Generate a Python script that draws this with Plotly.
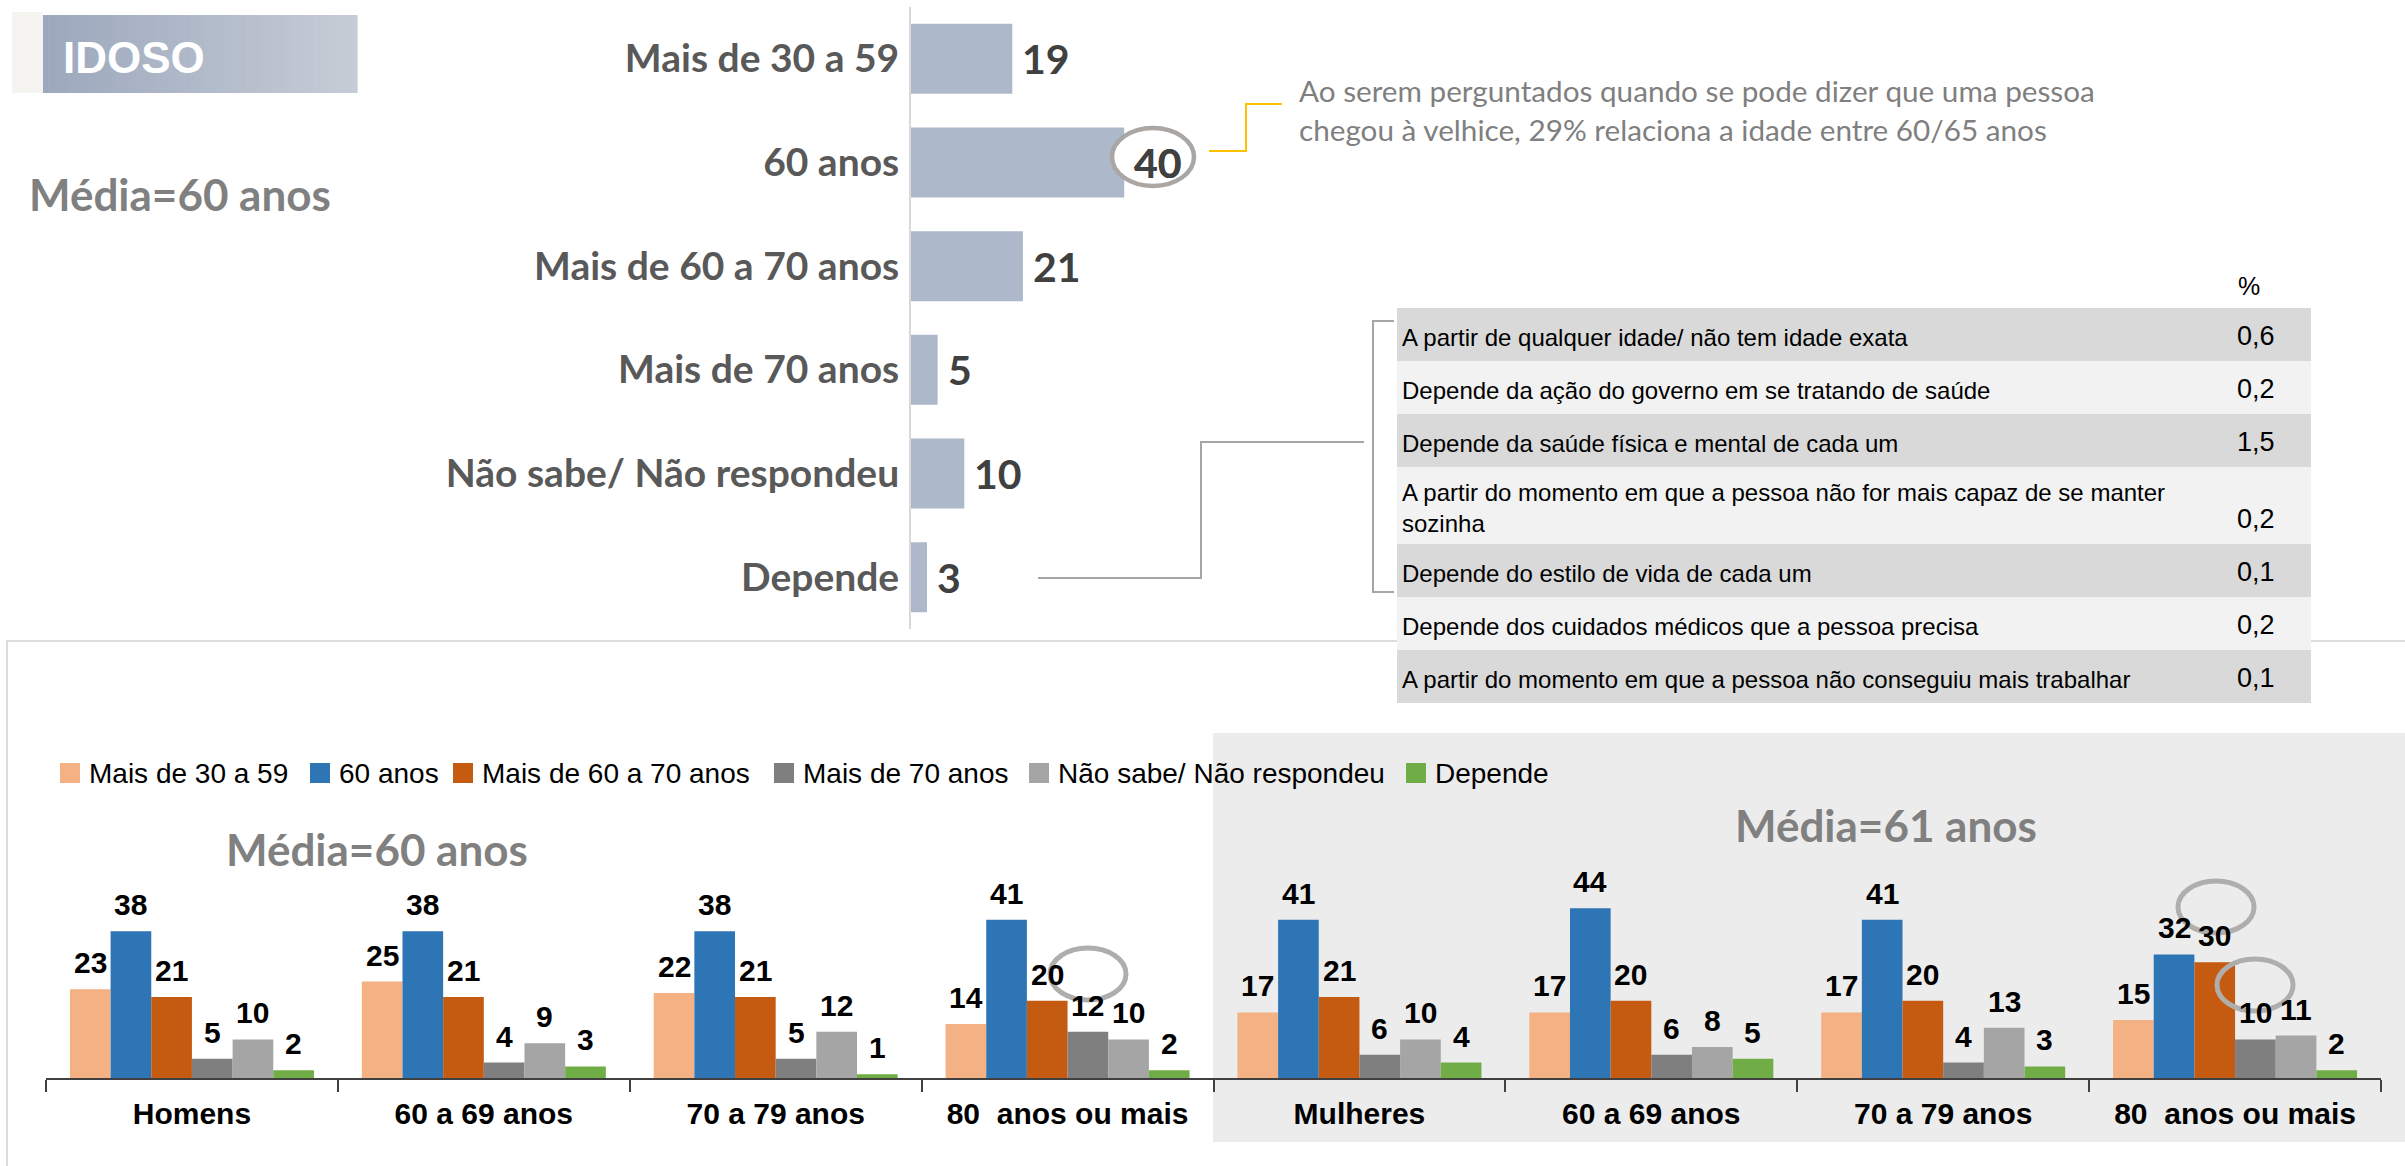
import plotly.graph_objects as go

W, H = 2405, 1166


def px(x):
    return x / W


def py(y):
    return 1 - y / H


# ---- overall answer (top bar chart) ----
faixas = ["Mais de 30 a 59", "60 anos", "Mais de 60 a 70 anos", "Mais de 70 anos",
          "Não sabe/ Não respondeu", "Depende"]
total = [19, 40, 21, 5, 10, 3]

# ---- breakdown of "Depende" ----
depende_itens = [
    "A partir de qualquer idade/ não tem idade exata",
    "Depende da ação do governo em se tratando de saúde",
    "Depende da saúde física e mental de cada um",
    "A partir do momento em que a pessoa não for mais capaz de se manter<br>sozinha",
    "Depende do estilo de vida de cada um",
    "Depende dos cuidados médicos que a pessoa precisa",
    "A partir do momento em que a pessoa não conseguiu mais trabalhar",
]
depende_pct = ["0,6", "0,2", "1,5", "0,2", "0,1", "0,2", "0,1"]

# ---- by sex and age group (bottom grouped chart) ----
grupos = ["Homens", "60 a 69 anos", "70 a 79 anos", "80\u00a0 anos ou mais",
          "Mulheres", "60 a 69 anos", "70 a 79 anos", "80\u00a0 anos ou mais"]
mais_30_59 = [23, 25, 22, 14, 17, 17, 17, 15]
anos_60 = [38, 38, 38, 41, 41, 44, 41, 32]
mais_60_70 = [21, 21, 21, 20, 21, 20, 20, 30]
mais_70 = [5, 4, 5, 12, 6, 6, 4, 10]
nao_sabe = [10, 9, 12, 10, 10, 8, 13, 11]
depende = [2, 3, 1, 2, 4, 5, 3, 2]

series = [mais_30_59, anos_60, mais_60_70, mais_70, nao_sabe, depende]
cores = ["#f4b183", "#2e75b6", "#c55a11", "#7f7f7f", "#a5a5a5", "#70ad47"]

CAL = "Lato, Open Sans, sans-serif"
ARIAL = "Liberation Sans, Arial, sans-serif"

fig = go.Figure()

# top horizontal bars
fig.add_trace(go.Bar(
    x=total, y=faixas, orientation="h", width=0.676,
    marker=dict(color="#adb9ca", line=dict(width=0)),
    xaxis="x", yaxis="y", showlegend=False, hoverinfo="skip",
))

# bottom grouped bars
xpos = list(range(len(grupos)))
for nome, vals, cor in zip(faixas, series, cores):
    fig.add_trace(go.Bar(
        x=xpos, y=vals, name=nome, marker=dict(color=cor, line=dict(width=0)),
        xaxis="x2", yaxis="y2", showlegend=False, hoverinfo="skip",
    ))

BARGAP = 0.164
annotations = []
shapes = []

# value labels of the top chart
for cat, v in zip(faixas, total):
    annotations.append(dict(
        x=v, y=cat, xref="x", yref="y", text=str(v), showarrow=False,
        xanchor="left", yanchor="middle", xshift=8,
        font=dict(family=CAL, size=41, color="#404040", weight="bold"),
    ))

# value labels of the grouped chart
nser = len(series)
bw = (1 - BARGAP) / nser
for k, vals in enumerate(series):
    off = -(1 - BARGAP) / 2 + (k + 0.5) * bw
    for i, v in enumerate(vals):
        annotations.append(dict(
            x=i + off, y=v, xref="x2", yref="y2", text=str(v), showarrow=False,
            xanchor="center", yanchor="bottom", yshift=8,
            font=dict(family=ARIAL, size=30, color="#000000", weight="bold"),
        ))

# header block "IDOSO" with a horizontal gradient
shapes.append(dict(type="rect", xref="paper", yref="paper", layer="below",
                   x0=px(12), x1=px(43), y0=py(93), y1=py(12),
                   fillcolor="#f6f4f1", line=dict(width=0)))
n_strips = 60
c0 = (156, 168, 189)
c1 = (198, 204, 214)
x_left, x_right = 43, 357
for s in range(n_strips):
    t = s / (n_strips - 1)
    r, g, b = (round(c0[j] + (c1[j] - c0[j]) * t) for j in range(3))
    xa = x_left + (x_right - x_left) * s / n_strips
    xb = x_left + (x_right - x_left) * (s + 1) / n_strips + 0.6
    shapes.append(dict(type="rect", xref="paper", yref="paper", layer="below",
                       x0=px(xa), x1=px(xb), y0=py(93), y1=py(15),
                       fillcolor=f"rgb({r},{g},{b})", line=dict(width=0)))
annotations.append(dict(x=px(61), y=py(57), xref="paper", yref="paper", text="IDOSO",
                        showarrow=False, xanchor="left", yanchor="middle",
                        font=dict(family=ARIAL, size=44, color="white", weight="bold")))

annotations.append(dict(x=px(27), y=py(194), xref="paper", yref="paper", text="Média=60 anos",
                        showarrow=False, xanchor="left", yanchor="middle",
                        font=dict(family=CAL, size=44, color="#808080", weight="bold")))

# highlight around the 40 label
shapes.append(dict(type="circle", xref="paper", yref="paper", layer="above",
                   x0=px(1112), x1=px(1194), y0=py(186), y1=py(128),
                   fillcolor="white", line=dict(color="#aaa6a4", width=4.5)))
annotations.append(dict(x=40, y="60 anos", xref="x", yref="y", text="40", showarrow=False,
                        xanchor="left", yanchor="middle", xshift=8,
                        font=dict(family=CAL, size=41, color="#404040", weight="bold")))

# callout connector and note
shapes.append(dict(type="path", xref="paper", yref="paper",
                   path=f"M {px(1209)},{py(151)} L {px(1246)},{py(151)} L {px(1246)},{py(104)} L {px(1282)},{py(104)}",
                   line=dict(color="#ffc000", width=2)))
annotations.append(dict(
    x=px(1297), y=py(110), xref="paper", yref="paper", showarrow=False,
    xanchor="left", yanchor="middle", align="left",
    text="Ao serem perguntados quando se pode dizer que uma pessoa<br>chegou à velhice, 29% relaciona a idade entre 60/65 anos",
    font=dict(family=CAL, size=29.7, color="#7f7f7f"),
))

# connector from "Depende" to its breakdown
shapes.append(dict(type="path", xref="paper", yref="paper",
                   path=f"M {px(1038)},{py(578)} L {px(1201)},{py(578)} L {px(1201)},{py(442)} L {px(1364)},{py(442)}",
                   line=dict(color="#a6a6a6", width=2)))
shapes.append(dict(type="path", xref="paper", yref="paper",
                   path=f"M {px(1394)},{py(321)} L {px(1373)},{py(321)} L {px(1373)},{py(592)} L {px(1394)},{py(592)}",
                   line=dict(color="#a6a6a6", width=2)))

# bottom panel frame and shaded women block
shapes.append(dict(type="rect", xref="paper", yref="paper", layer="below",
                   x0=px(7), x1=px(2420), y0=py(1180), y1=py(641),
                   fillcolor="rgba(0,0,0,0)", line=dict(color="#dcdcdc", width=2)))
shapes.append(dict(type="rect", xref="paper", yref="paper", layer="below",
                   x0=px(1213), x1=px(2420), y0=py(1142), y1=py(733),
                   fillcolor="#ececec", line=dict(width=0)))

# breakdown table
annotations.append(dict(x=px(2236), y=py(286), xref="paper", yref="paper", text="%",
                        showarrow=False, xanchor="left", yanchor="middle",
                        font=dict(family=ARIAL, size=25, color="#000000")))
row_top = 308
for idx, (item, pct) in enumerate(zip(depende_itens, depende_pct)):
    h = 77 if "<br>" in item else 53
    fill = "#d9d9d9" if idx % 2 == 0 else "#f2f2f2"
    shapes.append(dict(type="rect", xref="paper", yref="paper", layer="above",
                       x0=px(1397), x1=px(2311), y0=py(row_top + h), y1=py(row_top),
                       fillcolor=fill, line=dict(width=0)))
    annotations.append(dict(x=px(1400), y=py(row_top + h / 2 + 3), xref="paper", yref="paper",
                            text=item, showarrow=False, xanchor="left", yanchor="middle",
                            align="left",
                            font=dict(family=ARIAL, size=24, color="#000000")))
    annotations.append(dict(x=px(2235), y=py(row_top + h - 25), xref="paper", yref="paper",
                            text=pct, showarrow=False, xanchor="left", yanchor="middle",
                            font=dict(family=ARIAL, size=27, color="#000000")))
    row_top += h

# legend of the grouped chart
legend_x = [60, 310, 453, 774, 1029, 1406]
for nome, cor, lx in zip(faixas, cores, legend_x):
    shapes.append(dict(type="rect", xref="paper", yref="paper", layer="above",
                       x0=px(lx), x1=px(lx + 20), y0=py(783), y1=py(763),
                       fillcolor=cor, line=dict(width=0)))
    annotations.append(dict(x=px(lx + 27), y=py(773), xref="paper", yref="paper", text=nome,
                            showarrow=False, xanchor="left", yanchor="middle",
                            font=dict(family=ARIAL, size=28, color="#000000")))

annotations.append(dict(x=px(224), y=py(849), xref="paper", yref="paper", text="Média=60 anos",
                        showarrow=False, xanchor="left", yanchor="middle",
                        font=dict(family=CAL, size=44, color="#808080", weight="bold")))
annotations.append(dict(x=px(1733), y=py(825), xref="paper", yref="paper", text="Média=61 anos",
                        showarrow=False, xanchor="left", yanchor="middle",
                        font=dict(family=CAL, size=44, color="#808080", weight="bold")))

# highlights on the 80+ groups
for cx, cy in [(1088, 974), (2216, 907), (2255, 985)]:
    shapes.append(dict(type="circle", xref="paper", yref="paper", layer="above",
                       x0=px(cx - 38), x1=px(cx + 38), y0=py(cy + 26), y1=py(cy - 26),
                       fillcolor="rgba(0,0,0,0)", line=dict(color="#b0aeac", width=5)))

PX_PER_UNIT_TOP = 5.33
PX_PER_UNIT_BOTTOM = 3.86

fig.update_layout(
    width=W, height=H, margin=dict(l=0, r=0, t=0, b=0),
    paper_bgcolor="white", plot_bgcolor="rgba(0,0,0,0)",
    barmode="group", bargap=BARGAP, bargroupgap=0,
    template="none",
    xaxis=dict(domain=[px(911), px(911 + 80 * PX_PER_UNIT_TOP)], range=[0, 80],
               visible=False, fixedrange=True),
    yaxis=dict(domain=[py(629), py(7)], type="category", range=[5.5, -0.5],
               showline=True, linecolor="#d9d9d9", linewidth=2, ticks="",
               showgrid=False, zeroline=False, automargin=False, ticklabelstandoff=2,
               tickfont=dict(family=CAL, size=39, color="#595959", weight="bold")),
    xaxis2=dict(domain=[px(46), px(2381)], range=[-0.5, len(grupos) - 0.5], anchor="y2",
                tickmode="array", tickvals=xpos, ticktext=grupos, ticks="",
                showline=True, linecolor="#404040", linewidth=2,
                showgrid=False, zeroline=False, automargin=False, ticklabelstandoff=8,
                tickfont=dict(family=ARIAL, size=30, color="#000000", weight="bold"),
                minor=dict(ticks="outside", ticklen=12, tickwidth=2, tickcolor="#404040",
                           tickmode="array", tickvals=[i - 0.5 for i in range(len(grupos) + 1)],
                           showgrid=False)),
    yaxis2=dict(domain=[py(1078), py(1078 - 50 * PX_PER_UNIT_BOTTOM)], range=[0, 50],
                visible=False, anchor="x2"),
    shapes=shapes,
    annotations=annotations,
    showlegend=False,
)

fig.write_html("out.html")
